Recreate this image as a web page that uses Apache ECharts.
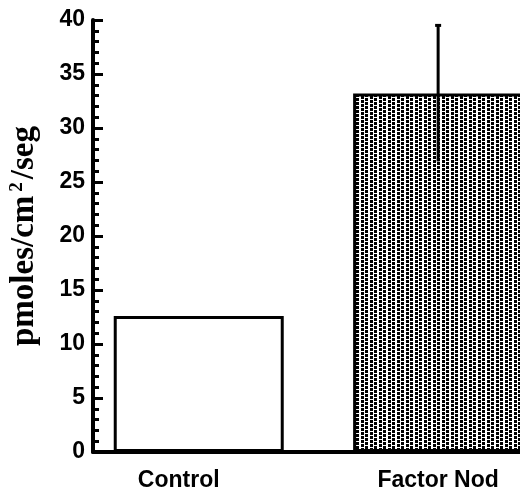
<!DOCTYPE html>
<html>
<head>
<meta charset="utf-8">
<script src="https://cdn.jsdelivr.net/npm/echarts@6/dist/echarts.min.js"></script>
<style>
html,body{margin:0;padding:0;background:#fff;}
#chart{width:520px;height:495px;}
</style>
</head>
<body>
<div id="chart"></div>
<script>
// ---- data ----
var categories = ['Control', 'Factor Nod'];
var values = [12.6, 33.2];
var errors = [0, 6.3];
var yTicks = [0, 5, 10, 15, 20, 25, 30, 35, 40];

// stipple pattern for second bar
var pat = document.createElement('canvas');
pat.width = 9; pat.height = 8;
var pc = pat.getContext('2d');
pc.fillStyle = '#fff'; pc.fillRect(0, 0, 9, 8);
pc.fillStyle = '#000';
pc.fillRect(1, 0, 3, 3); pc.fillRect(1, 4, 3, 3);
pc.fillRect(5, 2, 3, 3); pc.fillRect(5, 6, 3, 2); pc.fillRect(5, 0, 3, 1);

var barData = categories.map(function (c, i) {
  return {
    name: c,
    value: [i, values[i]],
    itemStyle: i === 0
      ? { color: '#fff', borderColor: '#000', borderWidth: 3 }
      : { color: { image: pat, repeat: 'repeat' }, borderColor: '#000', borderWidth: 3 }
  };
});
var errData = [];
categories.forEach(function (c, i) {
  if (errors[i] > 0) errData.push([i, values[i], errors[i]]);
});

var chart = echarts.init(document.getElementById('chart'), null, { renderer: 'canvas' });
chart.setOption({
  animation: false,
  backgroundColor: '#fff',
  grid: { left: 92, right: 0, top: 20, bottom: 43, containLabel: false },
  xAxis: {
    type: 'value',
    min: -0.4417,
    max: 1.342,
    splitNumber: 3,
    axisLine: { onZero: false, lineStyle: { color: '#000', width: 4 } },
    axisTick: { show: false },
    splitLine: { show: false },
    axisLabel: {
      margin: 17,
      showMinLabel: false,
      showMaxLabel: false,
      color: '#000',
      fontFamily: 'Liberation Sans, Arial, sans-serif',
      fontWeight: 'bold',
      fontSize: 23,
      formatter: function (v) {
        var r = Math.round(v);
        if (Math.abs(v - r) < 1e-6 && r >= 0 && r < categories.length) {
          return r === 0 ? '{c|' + categories[r] + '}' : categories[r];
        }
        return '';
      },
      rich: {
        c: { fontFamily: 'Liberation Sans, Arial, sans-serif', fontWeight: 'bold', fontSize: 23, color: '#000', padding: [0, 40, 0, 0] }
      }
    }
  },
  yAxis: {
    type: 'value',
    min: yTicks[0],
    max: yTicks[yTicks.length - 1],
    interval: 5,
    name: 'pmoles/cm{sup|2}/seg',
    nameLocation: 'middle',
    nameRotate: 90,
    nameGap: 52,
    nameTextStyle: {
      fontFamily: 'Liberation Serif, Times New Roman, serif',
      fontWeight: 'bold',
      fontSize: 33,
      color: '#000',
      rich: {
        sup: { fontFamily: 'Liberation Serif, Times New Roman, serif', fontWeight: 'bold', fontSize: 19, color: '#000', verticalAlign: 'top', padding: [0, 3, 14, 4] }
      }
    },
    axisLine: { onZero: false, lineStyle: { color: '#000', width: 4 } },
    axisTick: { show: true, inside: true, length: 10, lineStyle: { color: '#000', width: 3 } },
    minorTick: { show: true, splitNumber: 5, length: 6, lineStyle: { color: '#000', width: 3 } },
    splitLine: { show: false },
    minorSplitLine: { show: false },
    axisLabel: {
      margin: 8,
      color: '#000',
      fontFamily: 'Liberation Sans, Arial, sans-serif',
      fontWeight: 'bold',
      fontSize: 23
    }
  },
  series: [
    {
      type: 'bar',
      barWidth: 170,
      data: barData,
      z: 2
    },
    {
      type: 'custom',
      z: 5,
      data: errData,
      renderItem: function (params, api) {
        var x = api.value(0), m = api.value(1), e = api.value(2);
        var top = api.coord([x, m + e]);
        var bot = api.coord([x, m - e]);
        return {
          type: 'group',
          children: [
            { type: 'line', shape: { x1: top[0], y1: top[1], x2: bot[0], y2: bot[1] }, style: { stroke: '#000', lineWidth: 3 } },
            { type: 'line', shape: { x1: top[0] - 3, y1: top[1], x2: top[0] + 3, y2: top[1] }, style: { stroke: '#000', lineWidth: 3 } }
          ]
        };
      }
    }
  ]
});
</script>
</body>
</html>
